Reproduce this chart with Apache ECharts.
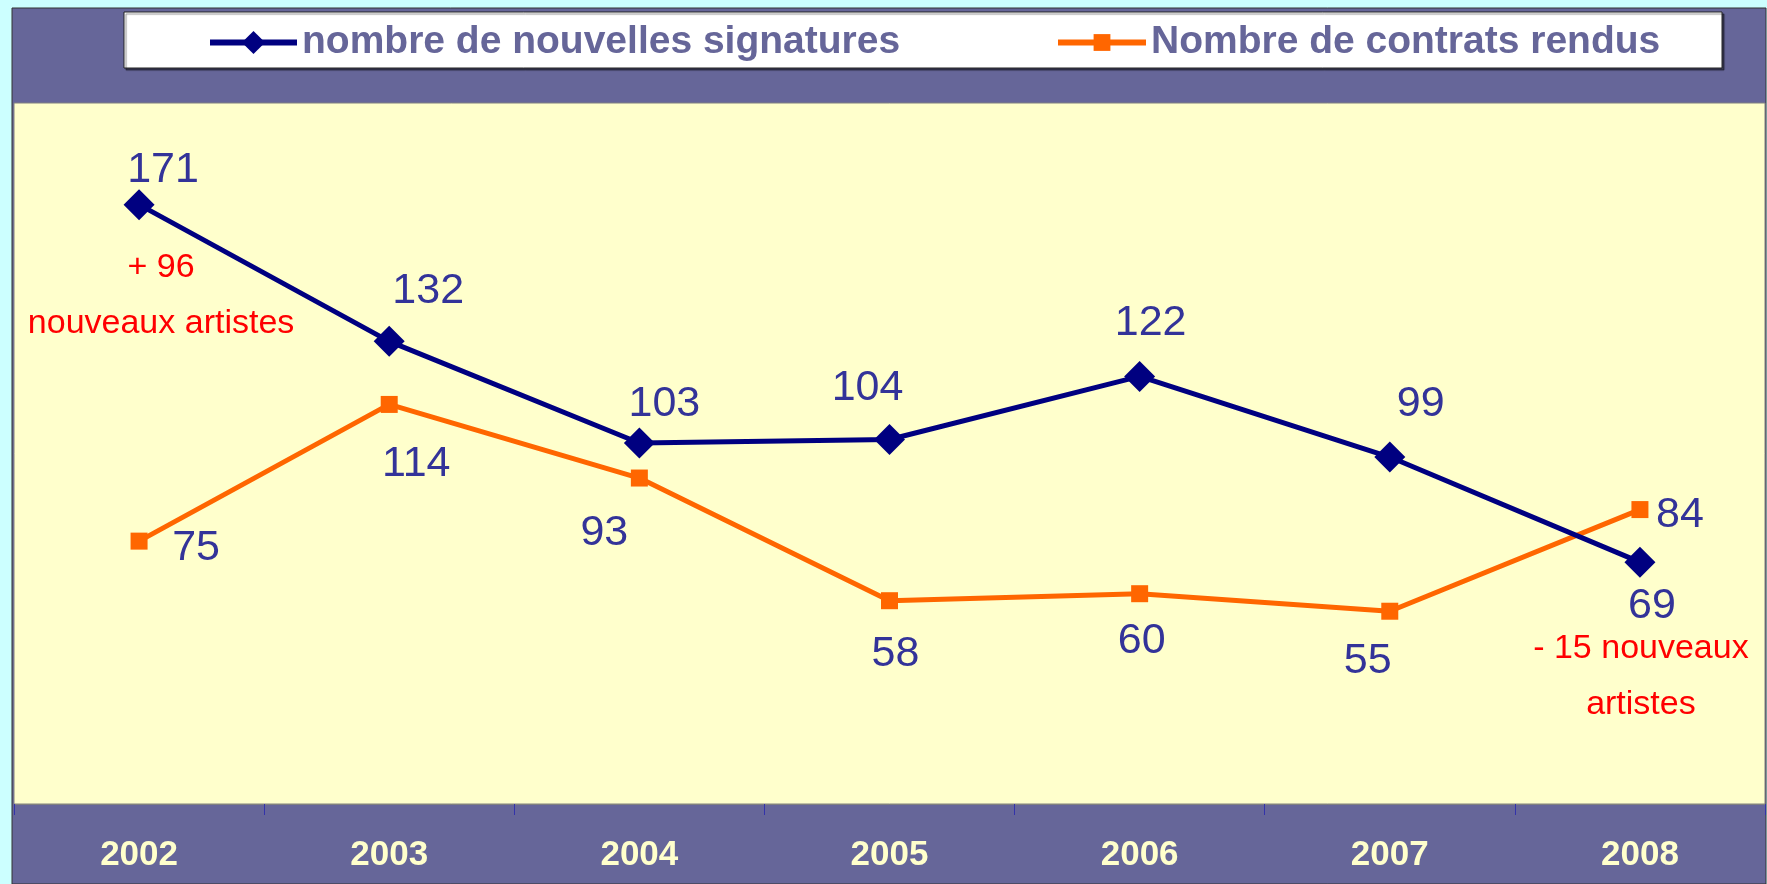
<!DOCTYPE html>
<html>
<head>
<meta charset="utf-8">
<script src="https://cdn.jsdelivr.net/npm/echarts@6/dist/echarts.min.js"></script>
<style>
html, body { margin: 0; padding: 0; background: #CCFFFF; }
#chart { width: 1767px; height: 884px; }
</style>
</head>
<body>
<div id="chart"></div>
<script>
var years = ['2002', '2003', '2004', '2005', '2006', '2007', '2008'];
var signatures = [171, 132, 103, 104, 122, 99, 69];
var contrats = [75, 114, 93, 58, 60, 55, 84];
var seriesNames = ['nombre de nouvelles signatures', 'Nombre de contrats rendus'];
var notes = ['+ 96\nnouveaux artistes', '- 15 nouveaux\nartistes'];
var yMin = 0, yMax = 200;

// decalage des etiquettes (px) depuis le centre du symbole
var sigOffset = [[24, -35], [39, -50], [25, -39], [-22, -51], [11, -53], [31, -53], [12, 44]];
var conOffset = [[57, 7], [27, 60], [-35, 55], [6, 53], [2, 47], [-22, 50], [40, 6]];

var font = "'Liberation Sans', Arial, sans-serif";
var chart = echarts.init(document.getElementById('chart'));

function withOffsets(values, offsets) {
	return values.map(function (v, i) {
		return { value: v, label: { offset: offsets[i] } };
	});
}

var legendText = { color: '#666699', fontSize: 39, fontWeight: 'bold', fontFamily: font };

var option = {
	backgroundColor: '#CCFFFF',
	animation: false,
	textStyle: { fontFamily: font },
	graphic: [
		{
			type: 'rect', z: -10,
			shape: { x: 12, y: 8, width: 1754, height: 876 },
			style: { fill: '#666699', stroke: '#333333', lineWidth: 1 }
		},
		{
			type: 'rect', z: 1,
			shape: { x: 124, y: 12, width: 1598, height: 56 },
			style: {
				fill: '#FFFFFF', stroke: '#222222', lineWidth: 1,
				shadowColor: 'rgba(0,0,0,0.45)', shadowOffsetX: 2, shadowOffsetY: 2, shadowBlur: 1
			}
		}
	],
	legend: [
		{
			data: [seriesNames[0]], left: 207, top: 23, padding: 0,
			itemWidth: 87, itemHeight: 29, itemGap: 0,
			lineStyle: { width: 6 },
			textStyle: legendText
		},
		{
			data: [seriesNames[1]], left: 1055, top: 23, padding: 0,
			itemWidth: 88, itemHeight: 21, itemGap: 0,
			lineStyle: { width: 6 },
			textStyle: legendText
		}
	],
	grid: {
		left: 14, right: 2, top: 103, bottom: 80,
		show: true, backgroundColor: '#FFFFCC', borderColor: '#808080', borderWidth: 1
	},
	xAxis: {
		type: 'category',
		data: years,
		boundaryGap: true,
		axisLine: { show: true, lineStyle: { color: '#808080', width: 1 } },
		axisTick: { show: true, length: 11, lineStyle: { color: '#3333AA', width: 1 } },
		axisLabel: { color: '#FFFFCC', fontSize: 35, fontWeight: 'bold', fontFamily: font, margin: 34 },
		splitLine: { show: false }
	},
	yAxis: {
		type: 'value', min: yMin, max: yMax, show: false,
		splitLine: { show: false }
	},
	series: [
		{
			name: seriesNames[0],
			type: 'line',
			data: withOffsets(signatures, sigOffset),
			symbol: 'diamond',
			symbolSize: 31,
			lineStyle: { color: '#000080', width: 5 },
			itemStyle: { color: '#000080' },
			label: { show: true, position: 'inside', color: '#333399', fontSize: 43, fontFamily: font },
			markPoint: {
				symbol: 'circle', symbolSize: 1,
				itemStyle: { color: 'rgba(0,0,0,0)' },
				label: { show: true, position: 'inside', color: '#FF0000', fontSize: 34, lineHeight: 56, fontFamily: font },
				data: [
					{ coord: [years[0], signatures[0]], label: { formatter: notes[0], offset: [22, 91] } },
					{ coord: [years[6], signatures[6]], label: { formatter: notes[1], offset: [1, 114] } }
				]
			},
			z: 3
		},
		{
			name: seriesNames[1],
			type: 'line',
			data: withOffsets(contrats, conOffset),
			symbol: 'rect',
			symbolSize: 17,
			lineStyle: { color: '#FF6600', width: 5 },
			itemStyle: { color: '#FF6600' },
			label: { show: true, position: 'inside', color: '#333399', fontSize: 43, fontFamily: font },
			z: 2
		}
	]
};

chart.setOption(option);
</script>
</body>
</html>
